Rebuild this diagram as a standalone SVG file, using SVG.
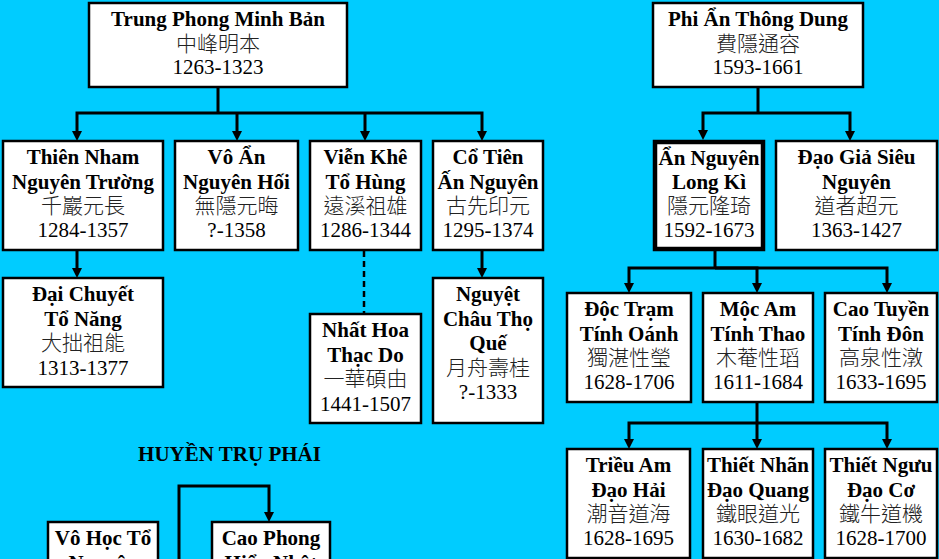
<svg xmlns="http://www.w3.org/2000/svg" width="939" height="559" viewBox="0 0 939 559">
<defs>
<marker id="ah" markerUnits="userSpaceOnUse" markerWidth="10" markerHeight="10" viewBox="0 0 10 10" refX="2" refY="5" orient="auto"><path d="M0,0 L10,5 L0,10 z" fill="#000"/></marker>
<style>
.box{fill:#fff;stroke:#000;stroke-width:2.5}
.thick{stroke-width:4.5}
text{text-anchor:middle;font-size:21px}
.b{font-family:"Liberation Serif","Times New Roman",serif;font-weight:bold;fill:#000}
.c{font-family:"Noto Sans CJK TC","Noto Sans CJK SC",serif;font-weight:300;fill:#222}
.y{font-family:"Liberation Serif","Times New Roman",serif;fill:#000}
.ln{fill:none;stroke:#000;stroke-width:3;stroke-linejoin:miter}
.arr{marker-end:url(#ah)}
.dash{fill:none;stroke:#000;stroke-width:2.5;stroke-dasharray:6 4}
</style>
</defs>
<rect width="939" height="559" fill="#00CCFF"/>
<g id="connectors">
<path class="ln" d="M218,87 V113"/>
<path class="ln arr" d="M218,113 H77 V133"/>
<path class="ln arr" d="M237,113 V133"/>
<path class="ln arr" d="M365,113 V133"/>
<path class="ln arr" d="M218,113 H482 V133"/>
<path class="ln arr" d="M77,250 V270"/>
<path class="dash" d="M364,251 V314"/>
<path class="ln arr" d="M482,250 V270"/>
<path class="ln" d="M758,87 V113"/>
<path class="ln arr" d="M758,113 H703 V132"/>
<path class="ln arr" d="M758,113 H850 V133"/>
<path class="ln" d="M715,251 V268"/>
<path class="ln arr" d="M715,268 H629 V285"/>
<path class="ln arr" d="M715,268 H757 V285"/>
<path class="ln arr" d="M715,268 H887 V285"/>
<path class="ln" d="M757,402 V423"/>
<path class="ln arr" d="M757,423 H629 V441"/>
<path class="ln arr" d="M757,423 V441"/>
<path class="ln arr" d="M757,423 H887 V441"/>
<path class="ln arr" d="M179,560 V486 H269 V514"/>
</g>
<g id="n_trung"><rect class="box" x="89" y="3" width="258" height="84"/>
<text class="b" x="218" y="26">Trung Phong Minh Bản</text><text class="c" x="218" y="51">中峰明本</text><text class="y" x="218" y="74">1263-1323</text></g>
<g id="n_phi"><rect class="box" x="653" y="3" width="210" height="84"/>
<text class="b" x="758" y="26">Phi Ẩn Thông Dung</text><text class="c" x="758" y="51">費隱通容</text><text class="y" x="758" y="74">1593-1661</text></g>
<g id="n_thien"><rect class="box" x="3" y="141" width="160" height="109"/>
<text class="b" x="83" y="164">Thiên Nham</text><text class="b" x="83" y="189">Nguyên Trường</text><text class="c" x="83" y="213">千巖元長</text><text class="y" x="83" y="237">1284-1357</text></g>
<g id="n_vo"><rect class="box" x="175" y="141" width="123" height="109"/>
<text class="b" x="236.5" y="164">Vô Ẩn</text><text class="b" x="236.5" y="189">Nguyên Hối</text><text class="c" x="236.5" y="213">無隱元晦</text><text class="y" x="236.5" y="237">?-1358</text></g>
<g id="n_vien"><rect class="box" x="310" y="141" width="111" height="109"/>
<text class="b" x="365.5" y="164">Viễn Khê</text><text class="b" x="365.5" y="189">Tổ Hùng</text><text class="c" x="365.5" y="213">遠溪祖雄</text><text class="y" x="365.5" y="237">1286-1344</text></g>
<g id="n_co"><rect class="box" x="433" y="141" width="110" height="109"/>
<text class="b" x="488" y="164">Cổ Tiên</text><text class="b" x="488" y="189">Ấn Nguyên</text><text class="c" x="488" y="213">古先印元</text><text class="y" x="488" y="237">1295-1374</text></g>
<g id="n_an"><rect class="box thick" x="655" y="142" width="108" height="107"/>
<text class="b" x="709" y="165">Ẩn Nguyên</text><text class="b" x="709" y="189">Long Kì</text><text class="c" x="709" y="213">隱元隆琦</text><text class="y" x="709" y="237">1592-1673</text></g>
<g id="n_dao"><rect class="box" x="776" y="141" width="161" height="109"/>
<text class="b" x="856.5" y="164">Đạo Giả Siêu</text><text class="b" x="856.5" y="189">Nguyên</text><text class="c" x="856.5" y="213">道者超元</text><text class="y" x="856.5" y="237">1363-1427</text></g>
<g id="n_dai"><rect class="box" x="3" y="278" width="160" height="109"/>
<text class="b" x="83" y="301">Đại Chuyết</text><text class="b" x="83" y="325.5">Tổ Năng</text><text class="c" x="83" y="350">大拙祖能</text><text class="y" x="83" y="374.5">1313-1377</text></g>
<g id="n_nhat"><rect class="box" x="310" y="314" width="111" height="109"/>
<text class="b" x="365.5" y="337">Nhất Hoa</text><text class="b" x="365.5" y="361.5">Thạc Do</text><text class="c" x="365.5" y="386">一華碩由</text><text class="y" x="365.5" y="410.5">1441-1507</text></g>
<g id="n_nguyet"><rect class="box" x="433" y="278" width="110" height="145"/>
<text class="b" x="488" y="301">Nguyệt</text><text class="b" x="488" y="325.5">Châu Thọ</text><text class="b" x="488" y="350">Quế</text><text class="c" x="488" y="374.5">月舟壽桂</text><text class="y" x="488" y="399">?-1333</text></g>
<g id="n_doc"><rect class="box" x="567" y="293" width="124" height="109"/>
<text class="b" x="629" y="316">Độc Trạm</text><text class="b" x="629" y="340.5">Tính Oánh</text><text class="c" x="629" y="365">獨湛性瑩</text><text class="y" x="629" y="389">1628-1706</text></g>
<g id="n_moc"><rect class="box" x="703" y="293" width="110" height="109"/>
<text class="b" x="758" y="316">Mộc Am</text><text class="b" x="758" y="340.5">Tính Thao</text><text class="c" x="758" y="365">木菴性瑫</text><text class="y" x="758" y="389">1611-1684</text></g>
<g id="n_caotuyen"><rect class="box" x="825" y="293" width="112" height="109"/>
<text class="b" x="881" y="316">Cao Tuyền</text><text class="b" x="881" y="340.5">Tính Đôn</text><text class="c" x="881" y="365">高泉性潡</text><text class="y" x="881" y="389">1633-1695</text></g>
<g id="n_trieu"><rect class="box" x="567" y="449" width="123" height="109"/>
<text class="b" x="628.5" y="472">Triều Am</text><text class="b" x="628.5" y="496.5">Đạo Hải</text><text class="c" x="628.5" y="521">潮音道海</text><text class="y" x="628.5" y="545">1628-1695</text></g>
<g id="n_thietnhan"><rect class="box" x="703" y="449" width="110" height="109"/>
<text class="b" x="758" y="472">Thiết Nhãn</text><text class="b" x="758" y="496.5">Đạo Quang</text><text class="c" x="758" y="521">鐵眼道光</text><text class="y" x="758" y="545">1630-1682</text></g>
<g id="n_thietnguu"><rect class="box" x="825" y="449" width="112" height="109"/>
<text class="b" x="881" y="472">Thiết Ngưu</text><text class="b" x="881" y="496.5">Đạo Cơ</text><text class="c" x="881" y="521">鐵牛道機</text><text class="y" x="881" y="545">1628-1700</text></g>
<g id="title"><text class="b" x="229.5" y="461">HUYỀN TRỤ PHÁI</text></g>
<g id="n_vohoc"><rect class="box" x="48" y="522" width="110" height="109"/>
<text class="b" x="103" y="545">Vô Học Tổ</text><text class="b" x="103" y="569.5">Nguyên</text></g>
<g id="n_caophong"><rect class="box" x="212" y="522" width="118" height="109"/>
<text class="b" x="271" y="545">Cao Phong</text><text class="b" x="271" y="569.5">Hiển Nhật</text></g>
</svg>
